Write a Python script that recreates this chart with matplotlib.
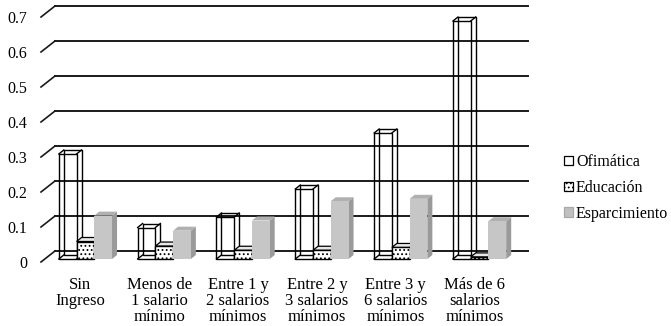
import matplotlib.pyplot as plt
from matplotlib.patches import Polygon, Patch

categorias = ['Sin\nIngreso', 'Menos de\n1 salario\nmínimo', 'Entre 1 y\n2 salarios\nmínimos',
              'Entre 2 y\n3 salarios\nmínimos', 'Entre 3 y\n6 salarios\nmínimos', 'Más de 6\nsalarios\nmínimos']
series = ['Ofimática', 'Educación', 'Esparcimiento']
ofimatica = [0.30, 0.09, 0.12, 0.20, 0.36, 0.68]
educacion = [0.05, 0.037, 0.025, 0.025, 0.033, 0.006]
esparcimiento = [0.124, 0.081, 0.11, 0.165, 0.172, 0.108]
yticks = [0, 0.1, 0.2, 0.3, 0.4, 0.5, 0.6, 0.7]
ytick_labels = ['0', '0.1', '0.2', '0.3', '0.4', '0.5', '0.6', '0.7']

plt.rcParams['font.family'] = 'Liberation Serif'
plt.rcParams['hatch.linewidth'] = 0.8

fig = plt.figure(figsize=(6.71, 3.26), dpi=100)
fig.patch.set_facecolor('white')
ax = fig.add_axes([41 / 671, 64 / 326, 473 / 671, 245 / 326])
ax.set_xlim(-0.5, 5.5)
ax.set_ylim(0, 0.7)

# pixel -> data units (fake 3d offsets)
sx = 473 / 6
sy = 245 / 0.7
bx, by = 14 / sx, 11 / sy   # back wall
fx, fy = 5 / sx, 3 / sy     # bar front face
dx, dy = 5 / sx, 4 / sy     # bar depth
w = 0.225

# back wall gridlines + depth diagonals
for t in yticks:
    ax.plot([-0.5, -0.5 + bx], [t, t + by], color='#1a1a1a', lw=1.2, clip_on=False, zorder=1)
    ax.plot([-0.5 + bx, 5.5 + bx], [t + by, t + by], color='#1a1a1a', lw=1.4, clip_on=False, zorder=1)

xs = list(range(len(categorias)))

# Ofimática: wireframe boxes
for i, h in zip(xs, ofimatica):
    x0 = i - w - w / 2 + fx
    x1 = x0 + w
    ax.bar(x0, h, width=w, bottom=fy, align='edge', fill=False, edgecolor='black', lw=1.0, zorder=2, clip_on=False)
    ax.bar(x0 + dx, h, width=w, bottom=fy + dy, align='edge', fill=False, edgecolor='black', lw=1.0, zorder=2, clip_on=False)
    for cx in (x0, x1):
        for cy in (fy, fy + h):
            ax.plot([cx, cx + dx], [cy, cy + dy], color='black', lw=1.0, zorder=2, clip_on=False)

# Educación: dotted boxes
for i, h in zip(xs, educacion):
    x0 = i - w / 2 + fx
    x1 = x0 + w
    top = [(x0, fy + h), (x1, fy + h), (x1 + dx, fy + h + dy), (x0 + dx, fy + h + dy)]
    side = [(x1, fy), (x1 + dx, fy + dy), (x1 + dx, fy + h + dy), (x1, fy + h)]
    ax.add_patch(Polygon(side, closed=True, facecolor='white', edgecolor='black', lw=0.9, zorder=3))
    ax.add_patch(Polygon(top, closed=True, facecolor='#e8e8e8', edgecolor='black', lw=0.9, zorder=3))
    ax.bar(x0, h, width=w, bottom=fy, align='edge', facecolor='white', edgecolor='black',
           hatch='....', lw=1.0, zorder=3)

# Esparcimiento: grey solid boxes
for i, h in zip(xs, esparcimiento):
    x0 = i + w / 2 + fx
    x1 = x0 + w
    top = [(x0, fy + h), (x1, fy + h), (x1 + dx, fy + h + dy), (x0 + dx, fy + h + dy)]
    side = [(x1, fy), (x1 + dx, fy + dy), (x1 + dx, fy + h + dy), (x1, fy + h)]
    ax.add_patch(Polygon(side, closed=True, facecolor='#9a9a9a', edgecolor='none', zorder=4))
    ax.add_patch(Polygon(top, closed=True, facecolor='#b0b0b0', edgecolor='none', zorder=4))
    ax.bar(x0, h, width=w, bottom=fy, align='edge', facecolor='#c6c6c6', edgecolor='none', zorder=4)

ax.set_yticks(yticks, ytick_labels)
ax.set_xticks(xs, categorias)
ax.tick_params(axis='y', length=0, pad=10, labelsize=11.5)
ax.tick_params(axis='x', length=0, pad=10.5, labelsize=12)
for lbl in ax.get_xticklabels():
    lbl.set_linespacing(1.03)
for s in ax.spines.values():
    s.set_visible(False)
ax.patch.set_alpha(0)

handles = [Patch(facecolor='white', edgecolor='black', lw=0.9),
           Patch(facecolor='white', edgecolor='black', hatch='....', lw=0.9),
           Patch(facecolor='#c0c0c0', edgecolor='#a8a8a8', lw=0.9)]
fig.legend(handles, series, loc='center left', bbox_to_anchor=(564 / 671, 138 / 326),
           frameon=False, fontsize=11.5, handlelength=0.55, handleheight=0.55,
           handletextpad=0.2, labelspacing=0.62, borderpad=0, borderaxespad=0)

fig.savefig('out.png', dpi=100)
